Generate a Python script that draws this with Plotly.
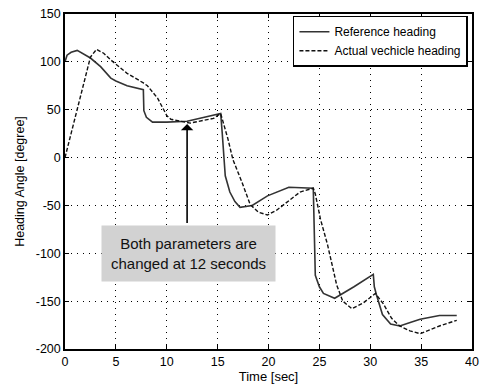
import plotly.graph_objects as go

# Reference heading (solid)
t_ref = [0, 0.2, 0.6, 1.2, 2.5, 3.5, 4.5, 5.0, 6.1, 7.0, 7.7, 7.75, 8.0, 8.6, 10.0, 12.0,
         13.6, 15.3, 15.45, 15.6, 15.75, 16.2, 16.7, 17.2, 18.4, 19.9, 22.0, 24.4, 24.5,
         24.6, 25.0, 25.4, 26.5, 28.4, 30.3, 30.4, 30.6, 31.2, 32.0, 32.9, 34.0, 34.9,
         36.8, 38.5]
ref_heading = [100, 107, 110, 112, 104, 95, 83, 80, 75, 73, 71, 49, 42, 37, 37, 38,
               42, 46, 26, 5, -19, -36, -46, -52, -50, -40, -31, -32, -80,
               -123, -135, -142, -147, -135, -122, -135, -143, -164, -174, -176, -172, -169,
               -165, -165]

# Actual vehicle heading (dashed)
t_act = [0, 1.0, 2.0, 2.5, 3.1, 3.8, 4.5, 6.1, 7.7, 8.1, 9.1, 10.0, 10.4, 12.0, 12.3,
         14.6, 15.3, 16.0, 16.5, 17.4, 18.2, 19.0, 19.9, 20.8, 21.8, 23.1, 24.4, 24.6,
         25.1, 25.8, 26.7, 27.3, 28.2, 29.3, 30.5, 31.3, 32.1, 32.9, 33.9, 34.9, 36.8, 38.5]
act_heading = [0, 42, 85, 105, 113, 109, 102, 88, 78, 75, 62, 44, 40, 36, 36,
               41, 46, 20, -2, -26, -49, -57, -60, -55, -47, -36, -32, -38,
               -64, -91, -133, -150, -158, -152, -142, -153, -168, -176, -181, -184, -176, -170]

x_ticks = [0, 5, 10, 15, 20, 25, 30, 35, 40]
y_ticks = [150, 100, 50, 0, -50, -100, -150, -200]

fig = go.Figure()
fig.add_trace(go.Scatter(x=t_ref, y=ref_heading, mode="lines", name="Reference heading",
                         line=dict(color="#333333", width=1.6)))
fig.add_trace(go.Scatter(x=t_act, y=act_heading, mode="lines", name="Actual vechicle heading",
                         line=dict(color="#111111", width=1.4, dash="4px,2px")))

fig.add_annotation(x=12, y=35, ax=12, ay=-70, axref="x", ayref="y", xref="x", yref="y",
                   text="", showarrow=True, arrowhead=1, arrowsize=1.3, arrowwidth=1.6,
                   arrowcolor="black")
fig.add_annotation(x=12.1, y=-100, xref="x", yref="y", showarrow=False,
                   text="Both parameters are<br>changed at 12 seconds",
                   font=dict(family="Liberation Sans", size=15, color="#111111"),
                   bgcolor="#d2d2d2", borderpad=9)

axis_common = dict(showline=True, linecolor="black", linewidth=1.5, mirror="ticks",
                   ticks="inside", ticklen=4, tickcolor="black",
                   showgrid=True, gridcolor="black", gridwidth=1, griddash="1px,5px",
                   zeroline=False, automargin=False, ticklabeloverflow="allow",
                   tickfont=dict(family="Liberation Sans", size=12.5, color="black"))

fig.update_xaxes(range=[0, 40], tickvals=x_ticks, ticktext=[str(v) for v in x_ticks],
                 title=dict(text="Time [sec]", standoff=0,
                            font=dict(family="Liberation Sans", size=13, color="black")),
                 **axis_common)
fig.update_yaxes(range=[-200, 150], tickvals=y_ticks, ticktext=[str(v) for v in y_ticks],
                 title=dict(text="Heading Angle [degree]", standoff=8,
                            font=dict(family="Liberation Sans", size=12.5, color="black")),
                 **axis_common)

fig.update_layout(
    width=483, height=380,
    margin=dict(l=57, r=19, t=6, b=39, autoexpand=False),
    paper_bgcolor="white", plot_bgcolor="white",
    showlegend=True,
    legend=dict(x=0.99, y=0.995, xanchor="right", yanchor="top",
                bgcolor="white", bordercolor="black", borderwidth=1.5,
                font=dict(family="Liberation Sans", size=12, color="black"),
                tracegroupgap=0, itemwidth=30),
)

fig.write_html("out.html")
